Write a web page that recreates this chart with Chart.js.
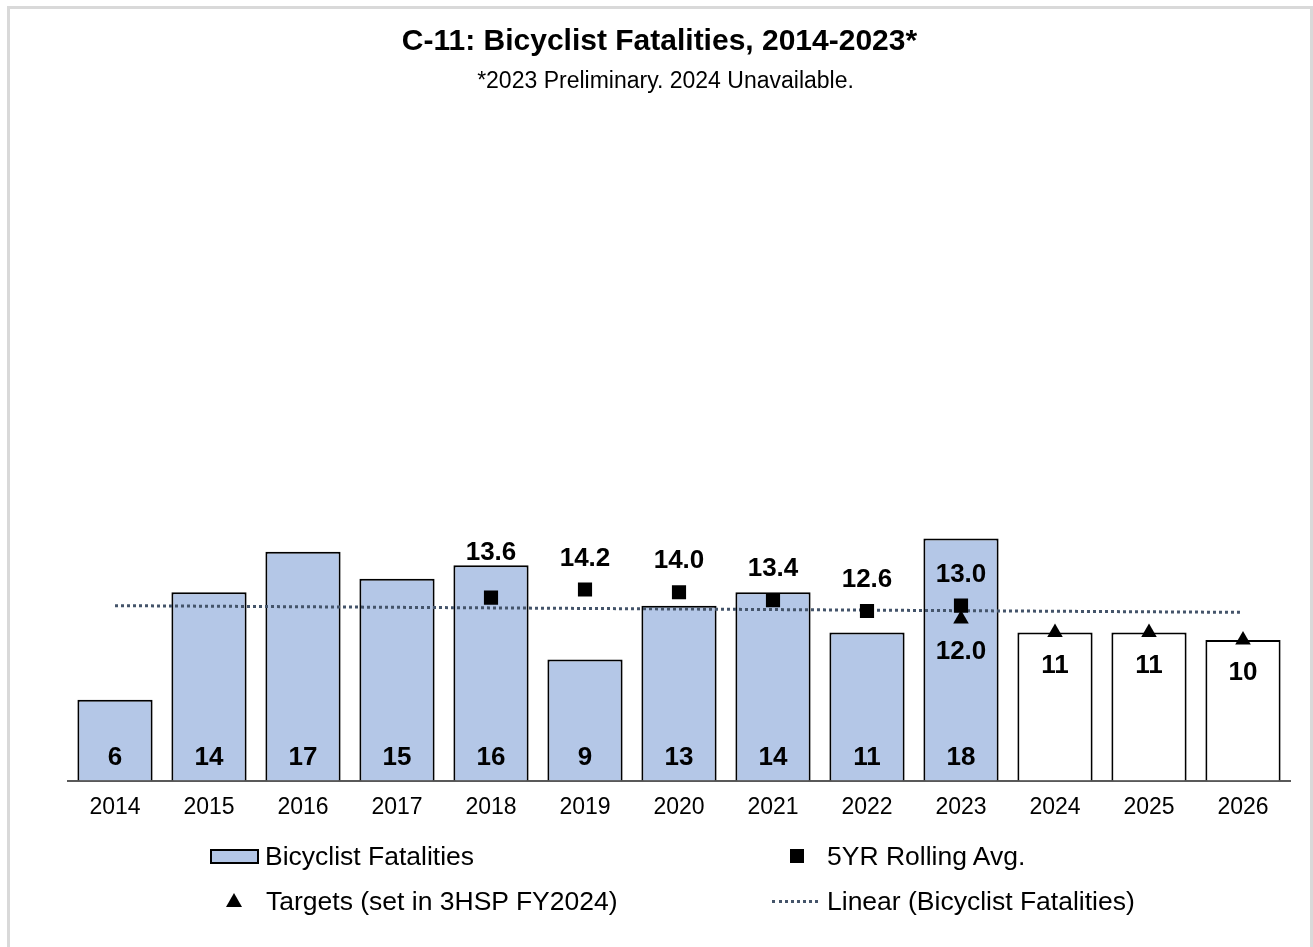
<!DOCTYPE html>
<html>
<head>
<meta charset="utf-8">
<script src="https://cdn.jsdelivr.net/npm/chart.js@4.4.1/dist/chart.umd.min.js"></script>
<style>
  body { margin: 0; background: #fff; font-family: "Liberation Sans", Arial, sans-serif; }
  #wrap { position: relative; width: 1313px; height: 947px; overflow: hidden; }
  #frame { position: absolute; left: 7px; top: 6px; width: 1300px; height: 960px; border: 3px solid #d9d9d9; }
  #chart { position: absolute; left: 0; top: 0; }
  .title { position: absolute; left: 0; width: 1313px; text-align: center; color: #000; }
  #t1 { top: 23px; font-size: 30px; font-weight: bold; left: 3px; }
  #t2 { top: 67px; font-size: 23px; left: 9px; }
  .lg { position: absolute; font-size: 26.5px; color: #000; line-height: 30px; }
  .sym { position: absolute; }
</style>
</head>
<body>
<div id="wrap">
  <div id="frame"></div>
  <canvas id="chart" width="1313" height="947"></canvas>
  <div class="title" id="t1">C-11: Bicyclist Fatalities, 2014-2023*</div>
  <div class="title" id="t2">*2023 Preliminary. 2024 Unavailable.</div>

  <div class="sym" style="left:210px;top:849px;width:45px;height:11px;background:#b4c7e7;border:2px solid #000;"></div>
  <div class="lg" style="left:265px;top:841px;">Bicyclist Fatalities</div>

  <div class="sym" style="left:226px;top:893px;width:0;height:0;border-left:8px solid transparent;border-right:8px solid transparent;border-bottom:14px solid #000;"></div>
  <div class="lg" style="left:266px;top:886px;">Targets (set in 3HSP FY2024)</div>

  <div class="sym" style="left:790px;top:849px;width:14px;height:14px;background:#000;"></div>
  <div class="lg" style="left:827px;top:841px;">5YR Rolling Avg.</div>

  <div class="sym" style="left:772px;top:900px;width:46px;height:0;border-top:3px dotted #44546a;"></div>
  <div class="lg" style="left:827px;top:886px;">Linear (Bicyclist Fatalities)</div>
</div>
<script>
const years = ["2014", "2015", "2016", "2017", "2018", "2019", "2020", "2021", "2022", "2023", "2024", "2025", "2026"];
const fatalities = [6, 14, 17, 15, 16, 9, 13, 14, 11, 18, null, null, null];
const targetBars = [null, null, null, null, null, null, null, null, null, null, 11, 11, 10.45];
const rollingAvg = [null, null, null, null, 13.6, 14.2, 14.0, 13.4, 12.6, 13.0, null, null, null];
const targets = [null, null, null, null, null, null, null, null, null, 12.0, 11, 11, 10.45];
const targetText = ["", "", "", "", "", "", "", "", "", "12.0", "11", "11", "10"];
// trend line: only the two ends
const trend = [13.0, null, null, null, null, null, null, null, null, null, null, null, 12.5];

const FONT = '"Liberation Sans", Arial, sans-serif';

const valueLabels = {
  id: "valueLabels",
  afterDatasetsDraw(chart) {
    const ctx = chart.ctx;
    const yScale = chart.scales.y;
    const base = yScale.getPixelForValue(0);
    ctx.save();
    ctx.fillStyle = "#000";
    ctx.textAlign = "center";
    ctx.textBaseline = "middle";
    ctx.font = "bold 26px " + FONT;

    // bar values, inside at the bottom
    chart.getDatasetMeta(0).data.forEach((el, i) => {
      if (fatalities[i] == null) return;
      ctx.fillText(String(fatalities[i]), el.x, base - 23);
    });

    // rolling average, above the square
    chart.getDatasetMeta(3).data.forEach((el, i) => {
      if (rollingAvg[i] == null) return;
      const up = i === 4 ? 45 : 31;
      ctx.fillText(rollingAvg[i].toFixed(1), el.x, el.y - up);
    });

    // targets, below the triangle
    chart.getDatasetMeta(4).data.forEach((el, i) => {
      if (targets[i] == null) return;
      ctx.fillText(targetText[i], el.x, el.y + 33);
    });
    ctx.restore();
  },
};

new Chart(document.getElementById("chart"), {
  type: "bar",
  data: {
    labels: years,
    datasets: [
      {
        label: "Bicyclist Fatalities",
        data: fatalities,
        backgroundColor: "#b4c7e7",
        borderColor: "#000",
        borderWidth: 2,
        grouped: false,
        order: 3,
      },
      {
        label: "Target bars",
        data: targetBars,
        backgroundColor: "#ffffff",
        borderColor: "#000",
        borderWidth: 2,
        grouped: false,
        order: 3,
      },
      {
        type: "line",
        label: "Linear (Bicyclist Fatalities)",
        data: trend,
        borderColor: "#44546a",
        borderWidth: 3,
        borderDash: [3, 3],
        pointRadius: 0,
        spanGaps: true,
        fill: false,
        order: 2,
      },
      {
        type: "line",
        label: "5YR Rolling Avg.",
        data: rollingAvg,
        showLine: false,
        pointStyle: "rect",
        pointRadius: 10,
        pointBackgroundColor: "#000",
        pointBorderColor: "#000",
        pointBorderWidth: 0,
        order: 1,
      },
      {
        type: "line",
        label: "Targets (set in 3HSP FY2024)",
        data: targets,
        showLine: false,
        pointStyle: "triangle",
        pointRadius: 9,
        pointBackgroundColor: "#000",
        pointBorderColor: "#000",
        pointBorderWidth: 0,
        order: 1,
      },
    ],
  },
  options: {
    responsive: false,
    animation: false,
    layout: {
      padding: { left: 68, right: 23, top: 108, bottom: 126.5 },
    },
    datasets: {
      bar: { categoryPercentage: 1, barPercentage: 0.8 },
    },
    plugins: {
      legend: { display: false },
      tooltip: { enabled: false },
      title: { display: false },
    },
    scales: {
      x: {
        grid: { display: false, drawTicks: false },
        border: { display: true, color: "#595959", width: 2 },
        ticks: {
          color: "#000",
          font: { family: FONT, size: 23 },
          padding: 13,
        },
        afterFit(scale) {
          scale.height = 40;
        },
      },
      y: {
        display: false,
        min: 0,
        max: 50,
      },
    },
  },
  plugins: [valueLabels],
});
</script>
</body>
</html>
